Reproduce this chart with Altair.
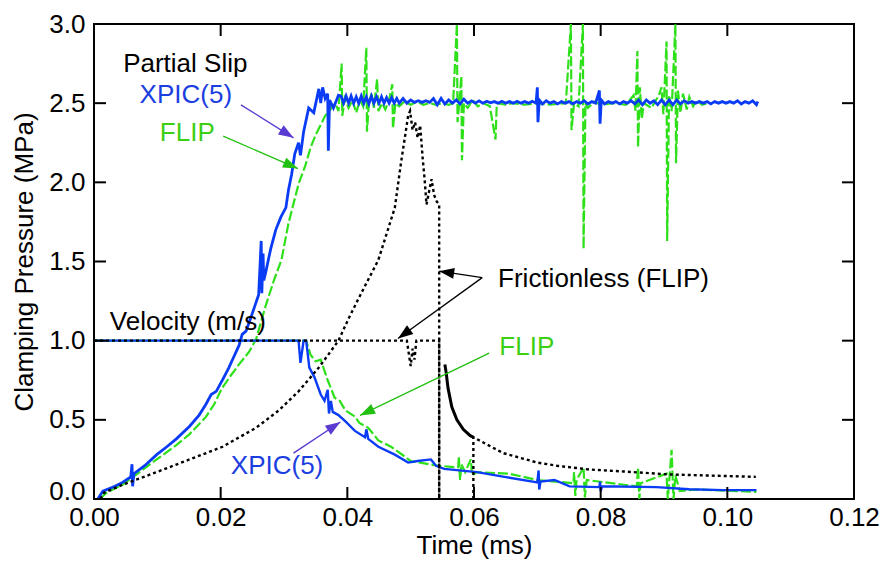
import math
import altair as alt
import pandas as pd

W, H = 760, 475
XMAX, YMAX = 0.12, 3.0
FONT = "Liberation Sans"
BLUE = "#0b3cf5"
GREEN = "#2ee01a"
TXT_BLUE = "#1a3ee0"
TXT_GREEN = "#3ccf14"
PURPLE = "#5a3ad0"
ARROW_GREEN = "#22c010"

x_ticks = [0.0, 0.02, 0.04, 0.06, 0.08, 0.10, 0.12]
y_ticks = [0.0, 0.5, 1.0, 1.5, 2.0, 2.5, 3.0]

# ---- XPIC(5) clamping pressure (blue) ----
xpic_pressure = [
    (0.0006, 0.0), (0.0014, 0.05), (0.0033, 0.08), (0.0045, 0.105), (0.0058, 0.14),
    (0.0060, 0.22), (0.0061, 0.08), (0.0063, 0.16), (0.0080, 0.21), (0.0099, 0.28),
    (0.0115, 0.33), (0.0130, 0.38), (0.0151, 0.46), (0.0166, 0.53), (0.0177, 0.60),
    (0.0185, 0.66), (0.0193, 0.68), (0.0204, 0.76), (0.0213, 0.83), (0.0221, 0.90),
    (0.0229, 0.97), (0.0234, 1.04), (0.0240, 1.06), (0.0248, 1.15), (0.0254, 1.22),
    (0.0260, 1.29), (0.0264, 1.63), (0.0265, 1.30), (0.0267, 1.55), (0.0268, 1.38),
    (0.0271, 1.43), (0.0279, 1.58), (0.0287, 1.70), (0.0295, 1.78), (0.0303, 1.84),
    (0.0307, 1.95), (0.0312, 2.05), (0.0317, 2.18), (0.0323, 2.25), (0.0326, 2.17),
    (0.0331, 2.32), (0.0339, 2.47), (0.0347, 2.44), (0.0355, 2.59), (0.0358, 2.50),
    (0.0361, 2.60), (0.0365, 2.53), (0.0369, 2.56), (0.0370, 2.20), (0.0372, 2.52),
    (0.0378, 2.47), (0.0386, 2.55), (0.0390, 2.545), (0.0394, 2.50), (0.0398, 2.545),
    (0.0402, 2.50), (0.0406, 2.545), (0.0410, 2.50), (0.0414, 2.54), (0.0418, 2.50),
    (0.0422, 2.545), (0.0426, 2.50), (0.0430, 2.54), (0.0434, 2.495), (0.0438, 2.545),
    (0.0442, 2.50), (0.0446, 2.54), (0.0450, 2.50), (0.0454, 2.54), (0.0458, 2.50),
    (0.0462, 2.535), (0.0466, 2.50), (0.0470, 2.535), (0.0474, 2.50), (0.0478, 2.53),
    (0.0482, 2.50), (0.0488, 2.53), (0.0494, 2.50),
    (0.0500, 2.52), (0.0506, 2.505), (0.0512, 2.515), (0.0518, 2.505), (0.0524, 2.515),
    (0.0530, 2.505), (0.0536, 2.53), (0.0542, 2.49), (0.0548, 2.53), (0.0554, 2.495),
    (0.0560, 2.52), (0.0566, 2.50), (0.0572, 2.52), (0.0578, 2.495), (0.0584, 2.525),
    (0.0590, 2.50), (0.0596, 2.515), (0.0602, 2.50), (0.0608, 2.515), (0.0614, 2.50),
    (0.0620, 2.512), (0.0626, 2.502), (0.0632, 2.51), (0.0638, 2.50), (0.0644, 2.512),
    (0.0650, 2.50), (0.0656, 2.51), (0.0662, 2.50), (0.0668, 2.512), (0.0674, 2.50),
    (0.0680, 2.51), (0.0686, 2.50), (0.0692, 2.512), (0.0698, 2.50), (0.0700, 2.60),
    (0.0701, 2.38), (0.0703, 2.52), (0.0708, 2.495), (0.0714, 2.515), (0.0720, 2.50),
    (0.0726, 2.51), (0.0732, 2.495), (0.0738, 2.51), (0.0744, 2.50), (0.0750, 2.51),
    (0.0756, 2.495), (0.0762, 2.51), (0.0768, 2.50), (0.0774, 2.515), (0.0780, 2.495),
    (0.0786, 2.51), (0.0792, 2.50), (0.0798, 2.58), (0.0799, 2.37), (0.0801, 2.52),
    (0.0806, 2.495), (0.0812, 2.51), (0.0818, 2.50), (0.0824, 2.51), (0.0830, 2.495),
    (0.0836, 2.51), (0.0842, 2.50), (0.0848, 2.515), (0.0854, 2.495), (0.0860, 2.52),
    (0.0866, 2.49), (0.0872, 2.52), (0.0878, 2.50), (0.0884, 2.515), (0.0890, 2.49),
    (0.0896, 2.52), (0.0902, 2.49), (0.0908, 2.52), (0.0914, 2.49), (0.0920, 2.52),
    (0.0926, 2.495), (0.0932, 2.515), (0.0938, 2.50), (0.0944, 2.51), (0.0950, 2.50),
    (0.0956, 2.51), (0.0962, 2.50), (0.0968, 2.51), (0.0974, 2.495), (0.0980, 2.51),
    (0.0986, 2.50), (0.0992, 2.51), (0.0998, 2.50), (0.1004, 2.51), (0.1010, 2.50),
    (0.1016, 2.515), (0.1022, 2.495), (0.1028, 2.51), (0.1034, 2.50), (0.1040, 2.515),
    (0.1046, 2.49), (0.1048, 2.51),
]

# ---- FLIP clamping pressure (green, dashed) ----
flip_pressure = [
    (0.0009, 0.0), (0.0020, 0.04), (0.0045, 0.09), (0.0072, 0.17), (0.0099, 0.25),
    (0.0130, 0.34), (0.0151, 0.41), (0.0177, 0.52), (0.0190, 0.60), (0.0202, 0.70),
    (0.0216, 0.78), (0.0229, 0.85), (0.0245, 0.93), (0.0256, 1.01), (0.0271, 1.22),
    (0.0284, 1.38), (0.0296, 1.51), (0.0307, 1.74), (0.0323, 1.99), (0.0334, 2.11),
    (0.0342, 2.22), (0.0350, 2.30), (0.0365, 2.42), (0.0381, 2.50), (0.0386, 2.45),
    (0.0391, 2.75), (0.0392, 2.42), (0.0396, 2.53), (0.0402, 2.47), (0.0408, 2.52),
    (0.0414, 2.44), (0.0420, 2.52), (0.0425, 2.48), (0.0430, 2.85), (0.0431, 2.32),
    (0.0434, 2.50), (0.0438, 2.56), (0.0442, 2.47), (0.0447, 2.65), (0.0449, 2.45),
    (0.0455, 2.50), (0.0460, 2.46), (0.0466, 2.52), (0.0471, 2.62), (0.0472, 2.34),
    (0.0476, 2.50), (0.0482, 2.48), (0.0490, 2.51), (0.0500, 2.49), (0.0510, 2.51),
    (0.0520, 2.49), (0.0530, 2.50), (0.0540, 2.49), (0.0550, 2.50), (0.0560, 2.49),
    (0.0567, 2.50), (0.0573, 3.00), (0.0574, 2.38), (0.0577, 2.52), (0.0580, 2.67),
    (0.0581, 2.14), (0.0584, 2.50), (0.0590, 2.47), (0.0598, 2.52), (0.0606, 2.48),
    (0.0615, 2.50), (0.0625, 2.48), (0.0634, 2.27), (0.0636, 2.50), (0.0650, 2.49),
    (0.0660, 2.50), (0.0680, 2.49), (0.0700, 2.50), (0.0720, 2.49), (0.0745, 2.50),
    (0.0753, 3.00), (0.0754, 2.33), (0.0758, 2.50), (0.0765, 2.48), (0.0772, 3.00),
    (0.0773, 1.58), (0.0776, 2.50), (0.0780, 2.47), (0.0790, 2.51), (0.0800, 2.49),
    (0.0820, 2.50), (0.0840, 2.49), (0.0852, 2.55), (0.0855, 2.45), (0.0858, 2.83),
    (0.0859, 2.22), (0.0862, 2.60), (0.0865, 2.40), (0.0868, 2.50), (0.0880, 2.47),
    (0.0892, 2.55), (0.0896, 2.60), (0.0899, 2.43), (0.0904, 2.89), (0.0905, 1.63),
    (0.0908, 2.55), (0.0912, 2.45), (0.0918, 3.00), (0.0919, 2.12), (0.0922, 2.58),
    (0.0926, 2.44), (0.0930, 2.56), (0.0936, 2.46), (0.0940, 2.54), (0.0946, 2.48),
    (0.0952, 2.52), (0.0960, 2.49), (0.0970, 2.50),
]

# ---- XPIC(5) velocity (blue) ----
xpic_velocity = [
    (0.0, 1.0), (0.0323, 1.0), (0.0326, 0.86), (0.0331, 1.0), (0.0335, 1.0),
    (0.0340, 0.83), (0.0348, 0.77), (0.0358, 0.66), (0.0364, 0.62), (0.0369, 0.69),
    (0.0371, 0.54), (0.0374, 0.62), (0.0377, 0.55), (0.0386, 0.53), (0.0397, 0.49),
    (0.0412, 0.43), (0.0428, 0.39), (0.0430, 0.44), (0.0433, 0.38), (0.0449, 0.33),
    (0.0475, 0.28), (0.0496, 0.23), (0.0511, 0.24), (0.0532, 0.25), (0.0540, 0.21),
    (0.0553, 0.19), (0.0605, 0.17), (0.0648, 0.14), (0.0700, 0.105), (0.0702, 0.18),
    (0.0703, 0.06), (0.0705, 0.11), (0.0727, 0.12), (0.0751, 0.08), (0.0798, 0.075),
    (0.0799, 0.11), (0.0800, 0.05), (0.0802, 0.08), (0.0888, 0.075), (0.0940, 0.062),
    (0.0993, 0.056), (0.1046, 0.056),
]

# ---- FLIP velocity (green, dashed) ----
flip_velocity = [
    (0.0, 1.0), (0.0335, 1.0), (0.0342, 0.91), (0.0350, 0.87), (0.0358, 0.88),
    (0.0369, 0.75), (0.0380, 0.64), (0.0388, 0.62), (0.0397, 0.56), (0.0412, 0.52),
    (0.0419, 0.48), (0.0433, 0.45), (0.0449, 0.37), (0.0469, 0.33), (0.0490, 0.27),
    (0.0500, 0.24), (0.0543, 0.21), (0.0575, 0.20), (0.0576, 0.27), (0.0578, 0.12),
    (0.0580, 0.22), (0.0586, 0.17), (0.0595, 0.25), (0.0597, 0.15), (0.0605, 0.17),
    (0.0655, 0.16), (0.0700, 0.12), (0.0757, 0.10), (0.0758, 0.17), (0.0760, 0.02),
    (0.0762, 0.12), (0.0773, 0.20), (0.0775, 0.01), (0.0778, 0.12), (0.0857, 0.08),
    (0.0859, 0.20), (0.0861, 0.0), (0.0863, 0.10), (0.0904, 0.16), (0.0906, 0.0),
    (0.0912, 0.31), (0.0915, 0.0), (0.0918, 0.15), (0.0925, 0.05), (0.0951, 0.06),
    (0.1046, 0.045),
]

# ---- Frictionless (FLIP), black ----
fric_pressure = [
    (0.0010, 0.0), (0.0016, 0.04), (0.0045, 0.09), (0.0099, 0.17), (0.0151, 0.25),
    (0.0203, 0.33), (0.0256, 0.45), (0.0292, 0.56), (0.0323, 0.68), (0.0355, 0.83),
    (0.0386, 1.00), (0.0402, 1.14), (0.0422, 1.30), (0.0449, 1.51), (0.0475, 1.84),
    (0.0485, 2.13), (0.0496, 2.42), (0.0499, 2.45), (0.0503, 2.33), (0.0507, 2.38),
    (0.0511, 2.28), (0.0515, 2.36), (0.0519, 2.15), (0.0522, 2.02), (0.0525, 1.86),
    (0.0529, 1.94), (0.0533, 2.02), (0.0537, 1.92), (0.0541, 1.88), (0.0545, 1.86),
    (0.0545, 0.0),
]
fric_velocity = [
    (0.0, 1.0), (0.0494, 1.0), (0.0500, 0.84), (0.0503, 0.95), (0.0506, 0.88),
    (0.0509, 1.0), (0.0545, 1.0), (0.0545, 0.0),
]
fric_decay = [
    (0.0554, 0.85), (0.0556, 0.80), (0.0559, 0.70), (0.0565, 0.58), (0.0573, 0.50),
    (0.0583, 0.44), (0.0594, 0.40), (0.0599, 0.39),
]
fric_tail = [
    (0.0599, 0.0), (0.0599, 0.39), (0.0646, 0.29), (0.0700, 0.23), (0.0731, 0.21),
    (0.0783, 0.186), (0.0836, 0.174), (0.0908, 0.155), (0.1045, 0.14),
]

# ---- annotations ----
labels_text = ["Partial Slip", "XPIC(5)", "FLIP", "Frictionless (FLIP)", "Velocity (m/s)", "FLIP", "XPIC(5)"]
labels_x = [0.0046, 0.0072, 0.0104, 0.0638, 0.0025, 0.0640, 0.0216]
labels_y = [2.75, 2.55, 2.31, 1.39, 1.115, 0.957, 0.211]
labels_color = ["black", TXT_BLUE, TXT_GREEN, "black", "black", TXT_GREEN, TXT_BLUE]

arrow_x0 = [0.0232, 0.0204, 0.0613, 0.0613, 0.0624, 0.0315]
arrow_y0 = [2.489, 2.292, 1.398, 1.398, 0.921, 0.290]
arrow_x1 = [0.0315, 0.0322, 0.0545, 0.0480, 0.0420, 0.0389]
arrow_y1 = [2.281, 2.087, 1.439, 1.014, 0.528, 0.486]
arrow_color = [PURPLE, ARROW_GREEN, "black", "black", ARROW_GREEN, PURPLE]


def path_df(pairs):
    return pd.DataFrame({"x": [p[0] for p in pairs], "y": [p[1] for p in pairs],
                         "i": list(range(len(pairs)))})


xscale = alt.Scale(domain=[0, XMAX], nice=False, zero=False)
yscale = alt.Scale(domain=[0, YMAX], nice=False, zero=False)

xaxis = alt.Axis(values=x_ticks, format=".2f", title="Time (ms)", ticks=False, tickSize=0,
                 domain=False, grid=False, labelFlush=False, labelPadding=5, titlePadding=2,
                 labelFontSize=26, titleFontSize=26)
yaxis = alt.Axis(values=y_ticks, format=".1f", title="Clamping Pressure (MPa)", ticks=False,
                 tickSize=0, domain=False, grid=False, labelPadding=9, titlePadding=11,
                 labelFontSize=26, titleFontSize=26, labelFlush=False,
                 labelBaseline=alt.expr("datum.value == 0 ? 'alphabetic' : 'middle'"))

X = alt.X("x:Q", scale=xscale, axis=xaxis)
Y = alt.Y("y:Q", scale=yscale, axis=yaxis)


def line(pairs, color, dash=None, width=2.0):
    kw = dict(color=color, strokeWidth=width, clip=True)
    if dash:
        kw["strokeDash"] = dash
    return alt.Chart(path_df(pairs)).mark_line(**kw).encode(x=X, y=Y, order="i:Q")


layers = [
    line(flip_pressure, GREEN, [10, 3], 2.2),
    line(flip_velocity, GREEN, [10, 3], 2.2),
    line(xpic_pressure, BLUE, None, 2.8),
    line(xpic_velocity, BLUE, None, 2.4),
    line(fric_pressure, "black", [3, 3], 2.4),
    line(fric_velocity, "black", [3, 3], 2.4),
    line(fric_tail, "black", [3, 3], 2.4),
    line(fric_decay, "black", None, 3.0),
]

# inward ticks on all four sides
xt = pd.DataFrame({"x": x_ticks})
yt = pd.DataFrame({"y": y_ticks})
layers += [
    alt.Chart(xt).mark_rule(color="black", strokeWidth=2).encode(x=X, y=alt.value(H), y2=alt.value(H - 12)),
    alt.Chart(xt).mark_rule(color="black", strokeWidth=2).encode(x=X, y=alt.value(0), y2=alt.value(12)),
    alt.Chart(yt).mark_rule(color="black", strokeWidth=2).encode(y=Y, x=alt.value(0), x2=alt.value(12)),
    alt.Chart(yt).mark_rule(color="black", strokeWidth=2).encode(y=Y, x=alt.value(W), x2=alt.value(W - 12)),
]

# arrows
adf = pd.DataFrame({"x": arrow_x0, "y": arrow_y0, "x2": arrow_x1, "y2": arrow_y1, "c": arrow_color})
px_x = W / XMAX
px_y = H / YMAX
adf["ang"] = [
    math.degrees(math.atan2(-(y1 - y0) * px_y, (x1 - x0) * px_x)) % 360
    for x0, y0, x1, y1 in zip(arrow_x0, arrow_y0, arrow_x1, arrow_y1)
]
head = pd.DataFrame({"x": arrow_x1, "y": arrow_y1, "ang": adf["ang"], "c": arrow_color})
layers += [
    alt.Chart(adf).mark_rule(strokeWidth=1.3).encode(
        x=X, y=Y, x2="x2:Q", y2="y2:Q", color=alt.Color("c:N", scale=None)),
    alt.Chart(head).mark_point(shape="M0,0L-1,-0.36L-1,0.36Z", size=900, filled=True,
                               opacity=1, strokeWidth=0).encode(
        x=X, y=Y, angle=alt.Angle("ang:Q", scale=None), color=alt.Color("c:N", scale=None)),
]

# text labels
tdf = pd.DataFrame({"x": labels_x, "y": labels_y, "t": labels_text, "c": labels_color})
layers.append(
    alt.Chart(tdf).mark_text(align="left", baseline="middle", fontSize=26, font=FONT).encode(
        x=X, y=Y, text="t:N", color=alt.Color("c:N", scale=None))
)

chart = alt.layer(*layers).properties(
    width=W, height=H,
    autosize=alt.AutoSizeParams(type="none"),
    padding={"left": 86, "top": 16, "right": 26, "bottom": 61},
    background="white",
).configure_view(stroke="black", strokeWidth=2).configure_axis(
    labelFont=FONT, titleFont=FONT, labelColor="black", titleColor="black",
    titleFontWeight="normal",
)

chart.save("out.html", embed_options={"renderer": "svg", "actions": False})
